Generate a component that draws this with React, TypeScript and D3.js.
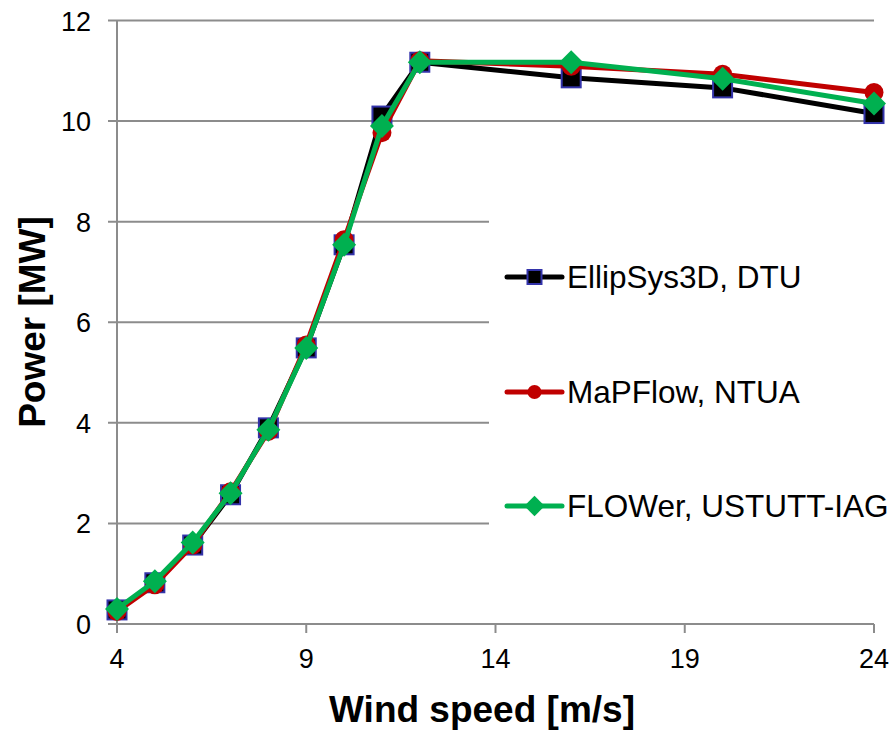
import React from "react";
import * as d3 from "d3";

const windSpeeds = [4, 5, 6, 7, 8, 9, 10, 11, 12, 16, 20, 24];
const ellipSys = [0.28, 0.82, 1.57, 2.57, 3.9, 5.49, 7.54, 10.1, 11.17, 10.86, 10.66, 10.15];
const mapFlow = [0.25, 0.78, 1.57, 2.63, 3.83, 5.55, 7.64, 9.77, 11.2, 11.09, 10.93, 10.57];
const flower = [0.3, 0.85, 1.62, 2.6, 3.86, 5.49, 7.54, 9.9, 11.17, 11.17, 10.84, 10.35];
const xTicks = [4, 9, 14, 19, 24];
const yTicks = [0, 2, 4, 6, 8, 10, 12];
const seriesNames = ["EllipSys3D, DTU", "MaPFlow, NTUA", "FLOWer, USTUTT-IAG"];

const W = 893;
const H = 730;
const FONT = "Liberation Sans, Arial, sans-serif";

export default function App() {
  const x = d3.scaleLinear().domain([4, 24]).range([117, 874]);
  const y = d3.scaleLinear().domain([0, 12]).range([624, 20.5]);
  const line = d3
    .line<[number, number]>()
    .x((d) => x(d[0]))
    .y((d) => y(d[1]));

  const series = [
    { name: seriesNames[0], values: ellipSys, color: "#000000", marker: "square" },
    { name: seriesNames[1], values: mapFlow, color: "#c00000", marker: "circle" },
    { name: seriesNames[2], values: flower, color: "#00b050", marker: "diamond" },
  ];

  const marker = (type: string, cx: number, cy: number, s: number, color: string, key: any) => {
    if (type === "square")
      return (
        <rect key={key} x={cx - s / 2} y={cy - s / 2} width={s} height={s} fill="#000" stroke="#3333aa" strokeWidth={2} />
      );
    if (type === "circle") return <circle key={key} cx={cx} cy={cy} r={s / 2} fill={color} />;
    const h = s * 0.6;
    return (
      <path key={key} d={`M${cx - h},${cy}L${cx},${cy - h}L${cx + h},${cy}L${cx},${cy + h}Z`} fill={color} />
    );
  };

  const legendY = [277, 392, 506];

  return (
    <svg width={W} height={H} style={{ position: "absolute", left: 0, top: 0, background: "#fff" }}>
      <rect x={0} y={0} width={W} height={H} fill="#fff" />
      {yTicks.map((t) => (
        <line key={"g" + t} x1={108} x2={x(24)} y1={y(t)} y2={y(t)} stroke="#8c8c8c" strokeWidth={2} />
      ))}
      <line x1={x(4)} x2={x(4)} y1={y(12)} y2={y(0)} stroke="#8c8c8c" strokeWidth={2} />
      {xTicks.map((t) => (
        <line key={"xt" + t} x1={x(t)} x2={x(t)} y1={y(0)} y2={y(0) + 9} stroke="#8c8c8c" strokeWidth={2} />
      ))}
      <rect x={489} y={150} width={W - 489} height={430} fill="#fff" />
      {yTicks.map((t) => (
        <text key={"yl" + t} x={91} y={y(t) + 10} textAnchor="end" fontFamily={FONT} fontSize={27} fill="#000">
          {t}
        </text>
      ))}
      {xTicks.map((t) => (
        <text key={"xl" + t} x={x(t)} y={668} textAnchor="middle" fontFamily={FONT} fontSize={27} fill="#000">
          {t}
        </text>
      ))}
      {series.map((s, si) => {
        const pts = windSpeeds.map((w, i) => [w, s.values[i]] as [number, number]);
        return (
          <g key={"s" + si}>
            <path d={line(pts) || ""} fill="none" stroke={s.color} strokeWidth={5} strokeLinejoin="round" />
            {pts.map((p, i) => marker(s.marker, x(p[0]), y(p[1]), s.marker === "diamond" ? 20 : 19, s.color, i))}
          </g>
        );
      })}
      {series.map((s, si) => (
        <g key={"l" + si}>
          <line x1={507} x2={562} y1={legendY[si]} y2={legendY[si]} stroke={s.color} strokeWidth={5} strokeLinecap="round" />
          {marker(s.marker, 534.5, legendY[si], s.marker === "diamond" ? 17 : 14, s.color, "m")}
          <text x={567} y={legendY[si] + 11} fontFamily={FONT} fontSize={31.5} fill="#000">
            {s.name}
          </text>
        </g>
      ))}
      <text x={482} y={722} textAnchor="middle" fontFamily={FONT} fontSize={37} fontWeight="bold" fill="#000">
        Wind speed [m/s]
      </text>
      <text
        transform={`translate(45,322) rotate(-90)`}
        textAnchor="middle"
        fontFamily={FONT}
        fontSize={37}
        fontWeight="bold"
        fill="#000"
      >
        Power [MW]
      </text>
    </svg>
  );
}
